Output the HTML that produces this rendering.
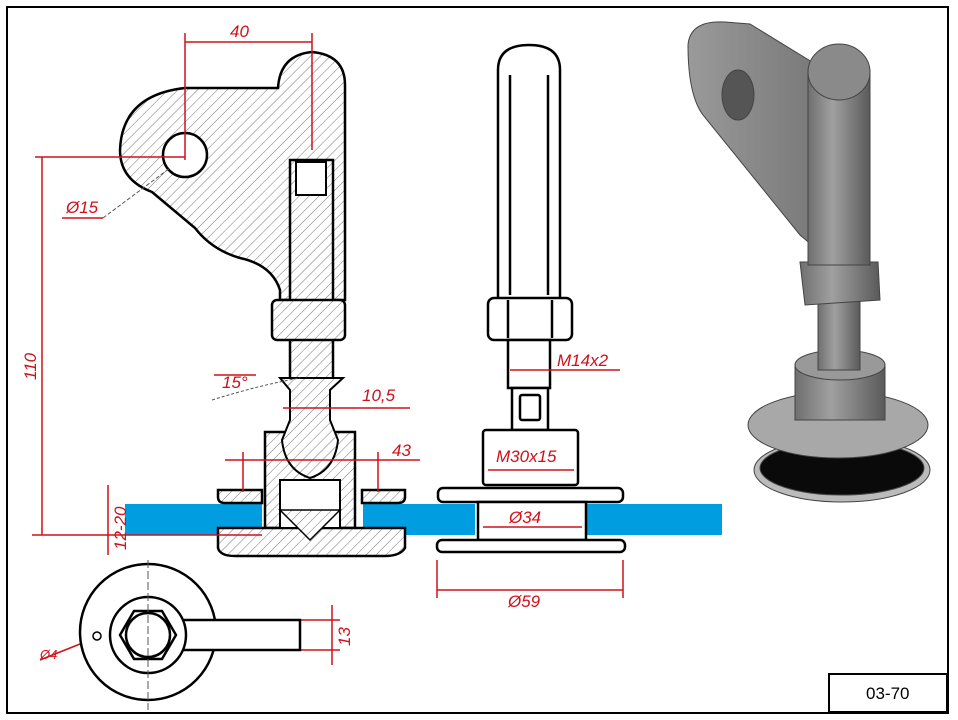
<!DOCTYPE html>
<html><head><meta charset="utf-8"><style>
html,body{margin:0;padding:0;background:#fff}
svg{display:block}
text{font-family:"Liberation Sans",sans-serif;font-style:italic;fill:#d0101a;font-size:17px}
</style></head><body>
<svg width="958" height="720" viewBox="0 0 958 720" xmlns="http://www.w3.org/2000/svg">
<defs>
<pattern id="h" width="7" height="7" patternUnits="userSpaceOnUse" patternTransform="rotate(45)">
<rect width="7" height="7" fill="#fff"/><line x1="0" y1="0" x2="0" y2="7" stroke="#777" stroke-width="1"/>
</pattern>
<linearGradient id="g1" x1="0" x2="1"><stop offset="0" stop-color="#6f6f6f"/><stop offset="0.4" stop-color="#a0a0a0"/><stop offset="1" stop-color="#5a5a5a"/></linearGradient>
<linearGradient id="g2" x1="0" x2="1"><stop offset="0" stop-color="#9a9a9a"/><stop offset="1" stop-color="#7a7a7a"/></linearGradient>
</defs>
<rect x="7" y="7" width="941" height="706" fill="none" stroke="#000" stroke-width="2"/>
<rect x="829" y="674" width="118" height="38" fill="#fff" stroke="#000" stroke-width="2"/>
<text x="866" y="699" style="fill:#000;font-style:normal">03-70</text>

<!-- blue glass -->
<rect x="125" y="504" width="137" height="31" fill="#009ee0"/>
<rect x="363" y="504" width="112" height="31" fill="#009ee0"/>
<rect x="586" y="504" width="136" height="31" fill="#009ee0"/>

<!-- Left section view -->
<g stroke="#000" stroke-width="2.5" fill="url(#h)">
<path d="M120,150 Q122,95 185,88 L278,88 Q280,55 312,52 Q345,55 345,85 L345,300 L280,300 L280,290 Q272,265 240,258 Q212,250 195,228 L152,192 Q120,180 120,150 Z"/>
<rect x="290" y="160" width="43" height="225"/>
<rect x="272" y="300" width="73" height="40" rx="5"/>
<rect x="265" y="432" width="90" height="96"/>
<path d="M218,528 L405,528 L405,548 Q400,556 385,556 L235,556 Q220,556 218,548 Z"/>
<path d="M218,490 L262,490 L262,503 L225,503 Q218,503 218,497 Z"/>
<path d="M362,490 L405,490 L405,497 Q405,503 398,503 L362,503 Z"/>
</g>
<circle cx="185" cy="155" r="22" fill="#fff" stroke="#000" stroke-width="2.5"/>
<path d="M280,378 L343,378 L330,390 L330,420 L338,440 Q335,470 310,478 Q285,470 282,440 L290,420 L290,390 Z" fill="url(#h)" stroke="#000" stroke-width="2"/>
<rect x="280" y="480" width="60" height="48" fill="#fff" stroke="#000" stroke-width="2"/>
<path d="M280,510 L340,510 L310,540 Z" fill="url(#h)" stroke="#000" stroke-width="1.5"/>
<path d="M296,162 L326,162 L326,195 L296,195 Z" fill="#fff" stroke="#000" stroke-width="2"/>
<path d="M212,400 Q260,385 300,378" fill="none" stroke="#555" stroke-dasharray="3,2"/>

<!-- middle view -->
<g stroke="#000" stroke-width="2.5" fill="#fff">
<path d="M498,300 L498,70 Q498,45 529,45 Q560,45 560,70 L560,300 Z"/>
<line x1="510" y1="75" x2="510" y2="295"/><line x1="548" y1="75" x2="548" y2="295"/>
<rect x="488" y="298" width="84" height="42" rx="6"/>
<line x1="508" y1="300" x2="508" y2="338"/><line x1="552" y1="300" x2="552" y2="338"/>
<rect x="508" y="340" width="42" height="48"/>
<rect x="512" y="388" width="36" height="42"/>
<rect x="520" y="395" width="20" height="25" rx="2"/>
<rect x="483" y="430" width="95" height="55" rx="3"/>
<rect x="438" y="488" width="185" height="14" rx="5"/>
<rect x="478" y="502" width="108" height="38"/>
<rect x="437" y="540" width="188" height="12" rx="5"/>
</g>

<!-- dims -->
<g stroke="#d0101a" stroke-width="1.5" fill="none">
<line x1="185" y1="33" x2="185" y2="160"/><line x1="312" y1="33" x2="312" y2="150"/>
<line x1="185" y1="42" x2="312" y2="42"/>
<line x1="35" y1="157" x2="185" y2="157"/>
<line x1="42" y1="157" x2="42" y2="535"/>
<line x1="32" y1="535" x2="262" y2="535"/>
<line x1="108" y1="485" x2="108" y2="555"/>
<line x1="62" y1="218" x2="103" y2="218"/>
<line x1="214" y1="375" x2="256" y2="375"/>
<line x1="283" y1="408" x2="410" y2="408"/>
<line x1="225" y1="460" x2="420" y2="460"/>
<line x1="243" y1="452" x2="243" y2="492"/><line x1="378" y1="452" x2="378" y2="492"/>
<line x1="437" y1="560" x2="437" y2="598"/><line x1="623" y1="560" x2="623" y2="598"/>
<line x1="437" y1="590" x2="623" y2="590"/>
<line x1="510" y1="370" x2="620" y2="370"/>
<line x1="488" y1="470" x2="574" y2="470"/>
<line x1="483" y1="527" x2="582" y2="527"/>
<line x1="298" y1="620" x2="340" y2="620"/><line x1="298" y1="650" x2="340" y2="650"/>
<line x1="332" y1="605" x2="332" y2="665"/>
<line x1="40" y1="660" x2="100" y2="636"/>
</g>
<path d="M103,218 L170,168" stroke="#555" fill="none" stroke-dasharray="4,2"/>
<text x="230" y="37">40</text>
<text x="66" y="213">Ø15</text>
<text x="36" y="380" transform="rotate(-90 36 380)">110</text>
<text x="126" y="550" transform="rotate(-90 126 550)">12-20</text>
<text x="222" y="388">15°</text>
<text x="362" y="401">10,5</text>
<text x="392" y="456">43</text>
<text x="557" y="366">M14x2</text>
<text x="496" y="462">M30x15</text>
<text x="509" y="523">Ø34</text>
<text x="508" y="607">Ø59</text>
<text x="40" y="659" style="font-size:13px">Ø4</text>
<text x="350" y="646" transform="rotate(-90 350 646)">13</text>

<!-- bottom view -->
<g stroke="#000" stroke-width="2.5" fill="#fff">
<circle cx="148" cy="632" r="68"/>
<rect x="148" y="620" width="152" height="30"/>
<circle cx="148" cy="635" r="38"/>
<polygon points="176,635 162,659 134,659 120,635 134,611 162,611"/>
<circle cx="148" cy="635" r="22"/>
<circle cx="97" cy="636" r="4" stroke-width="1.5"/>
</g>
<line x1="148" y1="560" x2="148" y2="710" stroke="#555" stroke-dasharray="8,3"/>

<!-- 3D render -->
<g stroke="#444" stroke-width="1">
<ellipse cx="842" cy="470" rx="88" ry="32" fill="#bbb"/>
<ellipse cx="842" cy="468" rx="82" ry="27" fill="#0a0a0a"/>
<ellipse cx="838" cy="425" rx="90" ry="33" fill="#a8a8a8"/>
<rect x="795" y="365" width="90" height="55" fill="url(#g1)"/>
<ellipse cx="840" cy="365" rx="45" ry="15" fill="#999"/>
<rect x="818" y="295" width="42" height="75" fill="url(#g1)"/>
<path d="M800,262 L878,262 L880,300 L805,305 Z" fill="url(#g1)"/>
<path d="M688,45 Q690,20 725,22 L750,24 L812,62 L812,245 L800,235 L703,115 Q688,95 688,45 Z" fill="url(#g2)"/>
<ellipse cx="738" cy="95" rx="16" ry="25" fill="#555"/>
<rect x="808" y="70" width="62" height="195" fill="url(#g1)"/>
<ellipse cx="839" cy="72" rx="31" ry="28" fill="#8a8a8a"/>
</g>
</svg>
</body></html>
